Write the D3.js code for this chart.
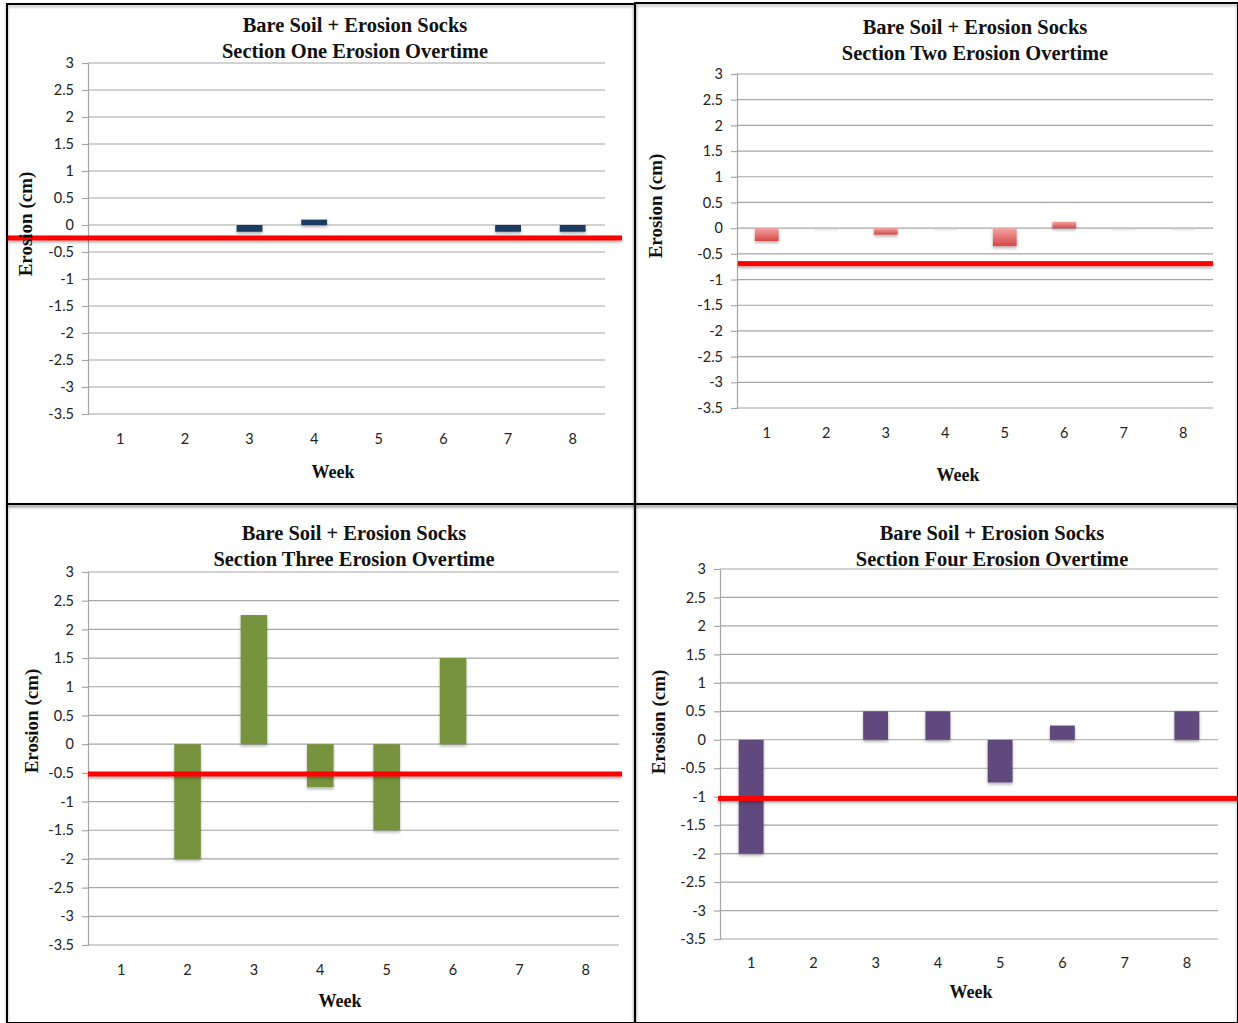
<!DOCTYPE html>
<html>
<head>
<meta charset="utf-8">
<script src="https://cdn.jsdelivr.net/npm/d3@7"></script>
<style>
  body { margin: 0; background: #fff; }
  svg { display: block; }
  .tick text { font-family: Lato, "Open Sans", sans-serif; font-size: 14.5px; fill: #222; }
  .grid line { stroke: #a6a6a6; stroke-width: 1.2; }
  .title { font-family: "Liberation Serif", "Times New Roman", serif; font-weight: bold; font-size: 22px; fill: #111; }
  .axis-title { font-family: "Liberation Serif", "Times New Roman", serif; font-weight: bold; fill: #111; }
</style>
</head>
<body>
<svg id="chart" width="1238" height="1023"></svg>
<script>
// weeks on the x axis
var weeks = [1, 2, 3, 4, 5, 6, 7, 8];
// y axis ticks (cm)
var yTicks = [3, 2.5, 2, 1.5, 1, 0.5, 0, -0.5, -1, -1.5, -2, -2.5, -3, -3.5];

// erosion per week for each section (cm)
var sectionOne   = [0, 0, -0.125, 0.1, 0, 0, -0.125, -0.125];
var sectionTwo   = [-0.25, 0, -0.125, 0, -0.35, 0.125, 0, 0];
var sectionThree = [0, -2, 2.25, -0.75, -1.5, 1.5, 0, 0];
var sectionFour  = [-2, 0, 0.5, 0.5, -0.75, 0.25, 0, 0.5];

// red reference line per section (average erosion)
var averages = [-0.24, -0.69, -0.52, -1.03];

var sectionNames = ["One", "Two", "Three", "Four"];

(function(d3) {
  var svg = d3.select("#chart");

  var defs = svg.append("defs");
  var shadow = defs.append("filter").attr("id", "shadow")
    .attr("filterUnits", "userSpaceOnUse")
    .attr("x", 0).attr("y", 0).attr("width", 1238).attr("height", 1023);
  shadow.append("feDropShadow").attr("dx", 0).attr("dy", 2).attr("stdDeviation", 1.5)
    .attr("flood-color", "#000").attr("flood-opacity", 0.3);

  var grad = defs.append("linearGradient").attr("id", "redGrad")
    .attr("x1", 0).attr("y1", 0).attr("x2", 0).attr("y2", 1);
  grad.append("stop").attr("offset", "0%").attr("stop-color", "#f7a3a3");
  grad.append("stop").attr("offset", "100%").attr("stop-color", "#d44848");

  // layout of the four panels
  var panels = [
    {values: sectionOne, avg: averages[0], name: sectionNames[0], fill: "#1f3a60",
     box: [7, 4, 635, 504], plot: [88, 63, 605, 414], titleX: 355, titleY: 24,
     xLabY: 439, weekX: 333, weekY: 472, yTitleX: 25, yTitleY: 224, lineX: [8, 622]},
    {values: sectionTwo, avg: averages[1], name: sectionNames[1], fill: "url(#redGrad)",
     box: [635, 3, 1238, 504], plot: [737, 74, 1213, 408], titleX: 975, titleY: 26,
     xLabY: 433, weekX: 958, weekY: 475, yTitleX: 655, yTitleY: 206, lineX: [738, 1213], ghost: true},
    {values: sectionThree, avg: averages[2], name: sectionNames[2], fill: "#77933c",
     box: [7, 504, 635, 1023], plot: [88, 572, 619, 945], titleX: 354, titleY: 532,
     xLabY: 970, weekX: 340, weekY: 1001, yTitleX: 31, yTitleY: 721, lineX: [88, 622]},
    {values: sectionFour, avg: averages[3], name: sectionNames[3], fill: "#604a7b",
     box: [635, 504, 1238, 1023], plot: [720, 569, 1218, 939], titleX: 992, titleY: 532,
     xLabY: 963, weekX: 971, weekY: 992, yTitleX: 658, yTitleY: 722, lineX: [718, 1238]}
  ];

  panels.forEach(function(p) {
    var g = svg.append("g");
    var left = p.plot[0], top = p.plot[1], right = p.plot[2], bottom = p.plot[3];

    var x = d3.scaleBand().domain(weeks).range([left, right]).paddingInner(0.6).paddingOuter(0.3);
    var xc = d3.scaleBand().domain(weeks).range([left, right]);
    var y = d3.scaleLinear().domain([-3.5, 3]).range([bottom, top]);

    // gridlines
    g.append("g").attr("class", "grid")
      .selectAll("line").data(yTicks).enter().append("line")
      .attr("x1", left).attr("x2", right)
      .attr("y1", function(d) { return y(d); }).attr("y2", function(d) { return y(d); });

    // y axis
    var yAxis = g.append("g")
      .attr("transform", "translate(" + left + ",0)")
      .call(d3.axisLeft(y).tickValues(yTicks).tickSize(6).tickPadding(8).tickFormat(function(d) { return String(d); }));
    yAxis.select(".domain").attr("stroke", "#a6a6a6").attr("stroke-width", 1.2);
    yAxis.selectAll(".tick line").attr("stroke", "#a6a6a6").attr("stroke-width", 1.2);

    // x labels (no axis line shown)
    g.selectAll(".xlab").data(weeks).enter().append("text")
      .attr("x", function(d) { return xc(d) + xc.bandwidth() / 2; })
      .attr("y", p.xLabY)
      .attr("dy", "0.35em")
      .attr("text-anchor", "middle")
      .style("font-family", "Lato, 'Open Sans', sans-serif")
      .style("font-size", "14.5px")
      .style("fill", "#222")
      .text(function(d) { return d; });

    // faint zero bars (shadow only)
    if (p.ghost) {
      g.selectAll(".ghost").data(weeks.filter(function(w, i) { return p.values[i] === 0; }))
        .enter().append("rect")
        .attr("x", function(d) { return x(d); })
        .attr("y", y(0) + 1)
        .attr("width", x.bandwidth())
        .attr("height", 2)
        .attr("fill", "#f0f0f0");
    }

    // bars
    g.selectAll(".bar").data(weeks.map(function(w, i) { return {week: w, v: p.values[i]}; })
        .filter(function(d) { return d.v !== 0; }))
      .enter().append("rect")
      .attr("x", function(d) { return x(d.week); })
      .attr("y", function(d) { return y(Math.max(0, d.v)); })
      .attr("width", x.bandwidth())
      .attr("height", function(d) { return Math.abs(y(d.v) - y(0)); })
      .attr("fill", p.fill)
      .attr("filter", "url(#shadow)");

    // red reference line
    g.append("rect")
      .attr("x", p.lineX[0]).attr("width", p.lineX[1] - p.lineX[0])
      .attr("y", y(p.avg) - 2.5).attr("height", 5)
      .attr("fill", "#ff0000")
      .attr("filter", "url(#shadow)");

    // titles
    var t = g.append("text").attr("class", "title")
      .attr("transform", "translate(" + p.titleX + "," + p.titleY + ") scale(0.93,1)")
      .attr("text-anchor", "middle");
    t.append("tspan").attr("x", 0).attr("y", 0).attr("dy", "0.35em").text("Bare Soil + Erosion Socks");
    t.append("tspan").attr("x", 0).attr("y", 26).attr("dy", "0.35em").text("Section " + p.name + " Erosion Overtime");

    g.append("text").attr("class", "axis-title")
      .attr("transform", "translate(" + p.yTitleX + "," + p.yTitleY + ") rotate(-90)")
      .attr("text-anchor", "middle").attr("dy", "0.35em")
      .style("font-size", "19px")
      .text("Erosion (cm)");

    g.append("text").attr("class", "axis-title")
      .attr("x", p.weekX).attr("y", p.weekY)
      .attr("text-anchor", "middle").attr("dy", "0.35em")
      .style("font-size", "18px")
      .text("Week");

    // panel border
    svg.append("rect")
      .attr("x", p.box[0]).attr("y", p.box[1])
      .attr("width", p.box[2] - p.box[0]).attr("height", p.box[3] - p.box[1])
      .attr("fill", "none").attr("stroke", "#000").attr("stroke-width", 2)
      .attr("filter", "url(#shadow)");
  });
})(window.d3);
</script>
</body>
</html>
